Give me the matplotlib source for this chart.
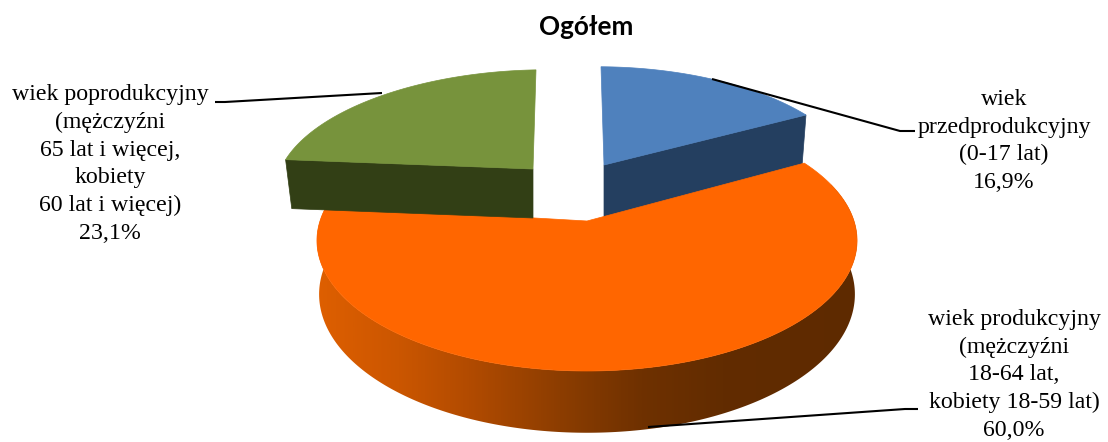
""" 3-D looking exploded pie chart, population by age group """

import numpy as np
from matplotlib import pyplot as plt
from matplotlib.colors import LinearSegmentedColormap
from matplotlib.patches import Polygon

plt.rcParams['font.family'] = ['Liberation Serif', 'DejaVu Sans']

title = 'Ogółem'
names = ['wiek\nprzedprodukcyjny\n(0-17 lat)',
         'wiek produkcyjny\n(mężczyźni\n18-64 lat,\nkobiety 18-59 lat)',
         'wiek poprodukcyjny\n(mężczyźni\n65 lat i więcej,\nkobiety\n60 lat i więcej)']
shares = [16.9, 60.0, 23.1]

top_colors = ['#4f81bd', '#ff6600', '#77933c']
cut_colors = ['#243f60', '#8a3a00', '#323f15']
# apex x, apex y, rx, ry, roll, convergence of each exploded slice, in pixels
slice_geom = [(604, 165, 250, 113, 1.5, -3),
              (587, 221, 267, 127.5, 0, 0),
              (533, 169, 254, 114, -4, 3)]
depths = [52, 52.5, 49]
narrowing = [0.98, 0.992, 0.975]
cut_layers = [1.5, 1.5, 3]
TILT = 0.15

wall_cmap = LinearSegmentedColormap.from_list(
    'wall', [(0.0, '#de5f00'), (0.15, '#cb5600'), (0.28, '#b24b00'),
             (0.45, '#8c3d00'), (0.6, '#6f3100'), (0.75, '#622c00'), (1.0, '#5e2a00')])

label_pos = [(1004, 141), (1014, 375), (110, 164)]
leaders = [[(712, 79), (900, 131), (915, 131)],
           [(648, 427), (905, 409), (918, 409)],
           [(382, 93), (225, 102), (215, 102)]]


def project(geom, theta):
    """ clockwise angle from the back of the disc to pixel coordinates """
    x0, y0, rx, ry, roll, conv = geom
    u, v = np.sin(theta), np.cos(theta)
    scale = 1 / (1 + TILT * v)
    return x0 + rx * u * scale + conv * v, y0 - ry * v * scale + roll * u


fig = plt.figure(figsize=(11.08, 4.42), dpi=100)
ax = fig.add_axes([0, 0, 1, 1])
ax.set_xlim(0, 1108)
ax.set_ylim(442, 0)
ax.axis('off')

edges = np.cumsum([0] + shares) / sum(shares) * 2 * np.pi

# the large slice goes first, the exploded ones overlap it
for idx in [1, 0, 2]:
    geom = slice_geom[idx]
    depth = depths[idx]
    shrink = narrowing[idx]
    theta = np.linspace(edges[idx], edges[idx + 1], 240)
    xs, ys = project(geom, theta)
    apex = (geom[0], geom[1])

    if idx == 1:
        # outer wall, one gradient image clipped to the wall outline
        front = np.cos(theta) < 0.3
        low_x = apex[0] + (xs[front] - apex[0]) * shrink
        low_y = ys[front] + depth / (1 + TILT * np.cos(theta[front]))
        outline = list(zip(xs[front], ys[front])) + list(zip(low_x[::-1], low_y[::-1]))
        wall = ax.imshow(np.linspace(0, 1, 512).reshape(1, -1), cmap=wall_cmap, aspect='auto',
                         extent=(xs.min(), xs.max(), 442, 0), zorder=1)
        wall.set_clip_path(Polygon(outline, closed=True, transform=ax.transData))
        ax.set_xlim(0, 1108)
        ax.set_ylim(442, 0)
        zorder = 2
    else:
        # flat cut face that looks towards the viewer
        end_x, end_y = (xs[-1], ys[-1]) if idx == 0 else (xs[0], ys[0])
        low_end = apex[0] + (end_x - apex[0]) * shrink
        quad = [apex, (end_x, end_y), (low_end, end_y + depth), (apex[0], apex[1] + depth)]
        ax.add_patch(Polygon(quad, closed=True, fc=cut_colors[idx],
                             ec=cut_colors[idx], lw=0.5, zorder=cut_layers[idx]))
        zorder = 4

    pts = [apex] + list(zip(xs, ys))
    ax.add_patch(Polygon(pts, closed=True, fc=top_colors[idx],
                         ec=top_colors[idx], lw=0.5, zorder=zorder))

for line in leaders:
    lx, ly = zip(*line)
    ax.plot(lx, ly, color='black', lw=1.5, zorder=6, solid_capstyle='butt')

for name, share, (tx, ty) in zip(names, shares, label_pos):
    label = name + '\n' + f'{share:.1f}'.replace('.', ',') + '%'
    ax.text(tx, ty, label, ha='center', va='center', fontsize=17.2,
            linespacing=1.42, color='black', zorder=7)

ax.text(586, 27, title, ha='center', va='center', fontsize=18.8, fontweight='bold',
        family=['Lato', 'DejaVu Sans'])

fig.savefig('out.png', dpi=100)
